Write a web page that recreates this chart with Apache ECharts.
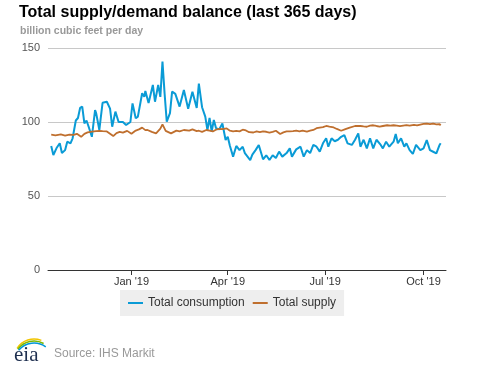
<!DOCTYPE html>
<html>
<head>
<meta charset="utf-8">
<script src="https://cdn.jsdelivr.net/npm/echarts@6/dist/echarts.min.js"></script>
<style>
html,body{margin:0;padding:0;background:#fff;}
#chart{width:477px;height:367px;}
</style>
</head>
<body>
<div id="chart"></div>
<script>
// Data (day offsets from the start date, values in billion cubic feet per day)
const startDate = [2018, 9, 18]; // 18 Oct 2018
const axisStartDay = -3;
const axisEndDay = 369;
const seriesNames = ['Total consumption', 'Total supply'];
const yTicks = [0, 50, 100, 150];

const consumptionDays = [0,2,5,8,10,13,15,18,20,23,25,27,29,31,33,35,38,41,42,45,46,48,52,55,57,60,63,67,70,74,76,79,81,85,87,88,91,95,97,100,102,104,106,108,111,113,116,120,124,128,132,136,138,141,144,146,148,150,152,154,157,160,163,165,167,170,173,176,179,181,186,188,191,194,198,201,204,207,210,213,216,220,223,225,229,233,236,239,242,245,248,251,254,257,259,262,265,268,271,274,277,281,284,287,289,292,295,298,301,304,308,310,313,316,320,322,324,327,330,332,335,338,341,345,348,351,354,357,360,363,364];
const consumptionValues = [83.8,77.7,82.4,85.6,79,81,86.7,85.6,89,101,102.7,109.5,110.4,99,101,96.8,90,108,106,94.6,101,113,113.7,109,96.8,107,100,100,98,100,112.6,102.5,103.6,119.4,117,121,112.8,125,113.7,125,117,140.8,119,100.2,106,120.5,119,110.4,121.6,109,120.5,109.5,126,110,103.6,94.6,102.7,93.5,101.4,95.9,95,99,87.8,90,84,76.6,83.8,81,83.3,79,74.3,78,81,84.5,74.8,77.5,74.3,77.5,75.7,80,76.6,79,82.2,76.6,81.5,83.3,76.6,81,79,84.5,83.3,80,85.6,89,83.3,89,87,88,90,91.2,85.6,84.5,88,92.3,83.3,88,82.2,89,82.2,88,84.5,82.2,86.7,83.3,86.7,91.9,85.6,89,83.3,85.6,81,78.4,84.5,81,82.2,87.8,81,79.9,78.8,84.5,85.6];

const supplyDays = [0,4,9,13,17,21,24,28,31,34,38,42,45,48,52,58,61,64,67,71,75,79,82,85,88,90,94,98,102,104,107,112,117,120,124,129,132,136,138,141,145,148,151,154,157,160,164,167,170,173,176,179,182,185,189,192,195,198,201,204,207,210,214,217,220,223,226,229,232,235,239,242,245,248,251,254,257,260,264,267,271,275,279,284,289,292,295,298,301,304,307,310,314,317,320,323,326,329,332,335,339,342,345,348,351,354,357,360,363,364];
const supplyValues = [91.4,91,91.6,90.8,91.5,91.3,92,90,92,93,93.5,93.8,94,93.8,93.6,90.5,92.5,93.3,92.8,94,92,94.2,95,96.2,94.5,94.6,93.3,92.3,95.5,98.4,94,92.3,94.2,93.7,94.6,94.2,95,93.8,94.1,93.3,94.6,94.2,93.6,94.8,95.3,95.2,95.7,94.1,93.7,94,93.7,94.8,94.3,93.1,92.9,93.6,93.1,93.6,93.4,92.8,93.3,94.1,91.9,93,93.6,93.6,93.8,94.1,93.6,94.2,93.5,94.1,94.6,95.8,96.2,96.5,97.3,96.8,96.3,95.3,94.1,95.2,96.2,97.3,97.3,97,96.8,97.5,97.8,97.3,96.9,97.3,97.8,97.5,97.8,97.5,97.2,97.6,97.9,97.5,98.1,97.7,98.3,98.8,98.9,98.5,98.9,98.4,98.6,97.7];

function dayToTime(d) {
  return new Date(startDate[0], startDate[1], startDate[2] + d).getTime();
}
function pairs(days, vals) {
  return days.map((d, i) => [dayToTime(d), vals[i]]);
}
const monthNames = ['Jan','Feb','Mar','Apr','May','Jun','Jul','Aug','Sep','Oct','Nov','Dec'];

const chart = echarts.init(document.getElementById('chart'), null, {renderer: 'canvas'});
const font = '"Liberation Sans", Arial, sans-serif';
chart.setOption({
  animation: false,
  textStyle: {fontFamily: font},
  title: [
    {text: 'Total supply/demand balance (last 365 days)', left: 14, top: 0,
     textStyle: {fontSize: 16, fontWeight: 'bold', color: '#000', fontFamily: font}},
    {text: 'billion cubic feet per day', left: 15, top: 21,
     textStyle: {fontSize: 10.5, fontWeight: 'bold', color: '#999', fontFamily: font}}
  ],
  grid: {left: 48, right: 31, top: 48, bottom: 97, containLabel: false},
  legend: {
    data: seriesNames,
    left: 120, top: 290,
    backgroundColor: '#eeeeee',
    padding: [7, 8, 7, 8],
    itemGap: 8,
    itemWidth: 15, itemHeight: 2,
    icon: 'rect',
    textStyle: {fontSize: 12, color: '#333', fontFamily: font}
  },
  xAxis: {
    type: 'time',
    min: dayToTime(axisStartDay),
    max: dayToTime(axisEndDay),
    splitNumber: 4,
    axisLine: {show: true, lineStyle: {color: '#333', width: 1}},
    axisTick: {show: true, length: 5, lineStyle: {color: '#333'}},
    minorTick: {show: false},
    splitLine: {show: false},
    axisLabel: {
      fontSize: 11, color: '#333', margin: 6, fontFamily: font,
      formatter: function (v) {
        const d = new Date(v);
        return monthNames[d.getMonth()] + " '" + String(d.getFullYear()).slice(2);
      }
    }
  },
  yAxis: {
    type: 'value',
    min: yTicks[0], max: yTicks[yTicks.length - 1], interval: 50,
    axisLine: {show: false},
    axisTick: {show: false},
    splitLine: {lineStyle: {color: '#c8c8c8', width: 1}},
    axisLabel: {fontSize: 11, color: '#555', margin: 8, fontFamily: font}
  },
  series: [
    {name: seriesNames[0], type: 'line', data: pairs(consumptionDays, consumptionValues),
     showSymbol: false, symbol: 'none', color: '#0a9bd6',
     lineStyle: {width: 2, color: '#0a9bd6'}},
    {name: seriesNames[1], type: 'line', data: pairs(supplyDays, supplyValues),
     showSymbol: false, symbol: 'none', color: '#bf6f2e',
     lineStyle: {width: 1.8, color: '#bf6f2e'}}
  ],
  graphic: [
    {type: 'arc', shape: {cx: 34, cy: 359, r: 20, startAngle: Math.PI * 1.18, endAngle: Math.PI * 1.62},
     style: {stroke: '#f2c500', lineWidth: 1.5, fill: null}},
    {type: 'arc', shape: {cx: 34, cy: 361, r: 20, startAngle: Math.PI * 1.2, endAngle: Math.PI * 1.66},
     style: {stroke: '#7ab800', lineWidth: 1.5, fill: null}},
    {type: 'arc', shape: {cx: 34, cy: 363, r: 20, startAngle: Math.PI * 1.22, endAngle: Math.PI * 1.7},
     style: {stroke: '#0096d6', lineWidth: 1.5, fill: null}},
    {type: 'text', left: 14, top: 345,
     style: {text: 'eia', font: '21px "Liberation Serif", "DejaVu Serif", serif', fill: '#1e2f4f'}},
    {type: 'text', left: 54, top: 348,
     style: {text: 'Source: IHS Markit', font: '12px "Liberation Sans", Arial, sans-serif', fill: '#999'}}
  ]
});
</script>
</body>
</html>
